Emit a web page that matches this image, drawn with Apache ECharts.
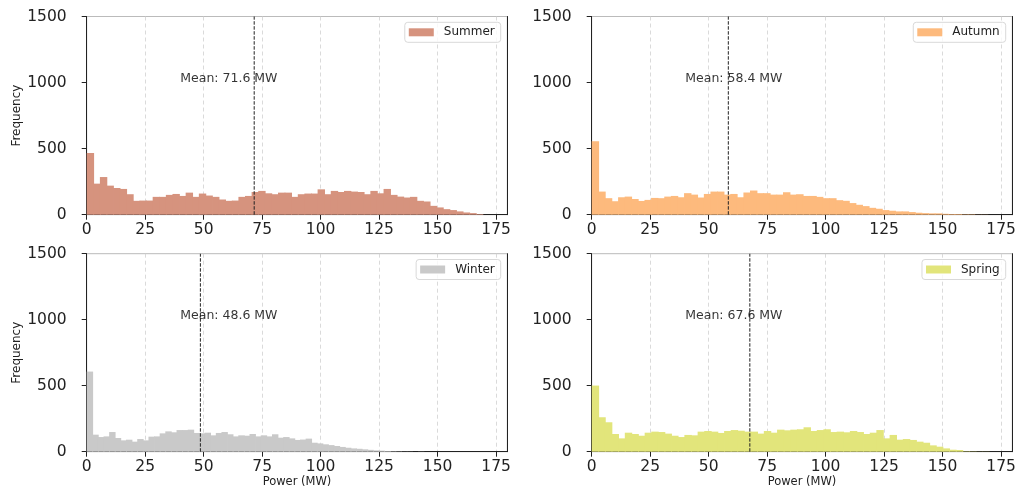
<!DOCTYPE html>
<html>
<head>
<meta charset="utf-8">
<script src="https://cdn.jsdelivr.net/npm/echarts@6/dist/echarts.min.js"></script>
<style>
  html, body { margin: 0; padding: 0; background: #fff; }
  #chart { width: 1021px; height: 489px; }
</style>
</head>
<body>
<div id="chart"></div>
<script>
// season histograms, 60 bins each starting at 0 MW
const seasons = ['Summer', 'Autumn', 'Winter', 'Spring']
const binWidths = [2.82, 2.82, 2.4, 2.83]
const means = [71.6, 58.4, 48.6, 67.6]

const summerCounts = [467, 235, 285, 220, 202, 195, 155, 105, 107, 107,
  135, 135, 150, 157, 142, 167, 135, 160, 145, 135,
  115, 105, 107, 135, 142, 172, 180, 162, 155, 167,
  167, 135, 155, 160, 160, 192, 155, 180, 172, 180,
  175, 172, 155, 180, 162, 195, 150, 137, 130, 135,
  105, 100, 67, 55, 42, 35, 25, 17, 12, 5]
const autumnCounts = [556, 175, 125, 102, 132, 137, 119, 104, 112, 127,
  125, 137, 142, 132, 163, 152, 130, 157, 175, 175,
  152, 157, 132, 168, 183, 163, 163, 152, 152, 170,
  152, 155, 142, 142, 135, 125, 125, 110, 105, 88,
  75, 65, 52, 45, 35, 30, 25, 25, 20, 15,
  12, 10, 10, 7, 5, 5, 3, 3, 1, 1]
const winterCounts = [607, 129, 111, 116, 149, 104, 86, 91, 76, 96,
  86, 114, 116, 139, 154, 147, 164, 164, 167, 142,
  139, 144, 124, 142, 149, 132, 116, 124, 121, 134,
  116, 124, 116, 132, 106, 111, 101, 89, 92, 99,
  68, 63, 56, 50, 43, 36, 30, 25, 22, 18,
  14, 10, 8, 5, 3, 2, 1, 1, 0, 1]
const springCounts = [501, 261, 223, 134, 101, 144, 134, 121, 144, 152,
  149, 137, 121, 111, 127, 124, 152, 157, 152, 142,
  157, 164, 159, 152, 152, 137, 157, 144, 167, 162,
  167, 170, 185, 157, 164, 170, 149, 152, 147, 157,
  149, 134, 144, 164, 101, 127, 91, 96, 89, 76,
  68, 48, 38, 25, 15, 13, 3, 2, 1, 1]

const xTicks = [0, 25, 50, 75, 100, 125, 150, 175]
const yTicks = [0, 500, 1000, 1500]

const countsList = [summerCounts, autumnCounts, winterCounts, springCounts]
const colors = ['#d6937e', '#fdba7d', '#c9c9c9', '#e2e57b']
const font = 'DejaVu Sans'

const grids = [
  { left: 86.7, top: 16.5, width: 420.6, height: 198.2 },
  { left: 591.7, top: 16.5, width: 420.6, height: 198.2 },
  { left: 86.7, top: 253.7, width: 420.6, height: 198 },
  { left: 591.7, top: 253.7, width: 420.6, height: 198 }
]

const chart = echarts.init(document.getElementById('chart'))

const xAxis = []
const yAxis = []
const legend = []
const series = []

grids.forEach((g, i) => {
  xAxis.push({
    gridIndex: i,
    type: 'value',
    min: 0,
    max: 179.8,
    axisLine: { lineStyle: { color: '#222', width: 1 } },
    axisTick: { show: true, length: 5, customValues: xTicks, lineStyle: { color: '#222' } },
    axisLabel: { customValues: xTicks, fontSize: 15.5, color: '#222', margin: 7, fontFamily: font },
    splitLine: { show: true, lineStyle: { type: [4, 3], color: '#d0d0d0', width: 0.8 } },
    name: i >= 2 ? 'Power (MW)' : '',
    nameLocation: 'middle',
    nameGap: 20,
    nameTextStyle: { fontSize: 11.5, color: '#222', fontFamily: font }
  })
  yAxis.push({
    gridIndex: i,
    type: 'value',
    min: 0,
    max: 1500,
    interval: 500,
    axisLine: { show: true, lineStyle: { color: '#222', width: 1 } },
    axisTick: { show: true, length: 5, customValues: yTicks, lineStyle: { color: '#222' } },
    axisLabel: {
      customValues: yTicks,
      formatter: v => String(v),
      fontSize: 15.5, color: '#222', margin: 20, fontFamily: font
    },
    splitLine: { show: false },
    name: i % 2 === 0 ? 'Frequency' : '',
    nameLocation: 'middle',
    nameGap: 61,
    nameTextStyle: { fontSize: 12, color: '#222', fontFamily: font }
  })
  legend.push({
    data: [seasons[i]],
    right: i % 2 === 0 ? 520.3 : 15.3,
    top: g.top + 5.8,
    icon: 'rect',
    itemWidth: 25,
    itemHeight: 8,
    padding: [4, 6, 4, 4],
    borderColor: '#d9d9d9',
    borderWidth: 1,
    borderRadius: 3,
    backgroundColor: 'rgba(255,255,255,0.8)',
    selectedMode: false,
    textStyle: { fontSize: 12, color: '#222', fontFamily: font, padding: [0, 0, 0, 5] }
  })

  const w = binWidths[i]
  const bins = countsList[i].map((c, k) => [k * w, (k + 1) * w, c])

  series.push({
    type: 'custom',
    name: seasons[i],
    xAxisIndex: i,
    yAxisIndex: i,
    itemStyle: { color: colors[i] },
    encode: { x: [0, 1], y: 2 },
    data: bins,
    renderItem: (params, api) => {
      const p0 = api.coord([api.value(0), api.value(2)])
      const p1 = api.coord([api.value(1), 0])
      // small overlap into the next bin hides anti-aliasing seams
      return {
        type: 'rect',
        shape: { x: p0[0], y: p0[1], width: p1[0] - p0[0] + 0.8, height: p1[1] - p0[1] },
        style: { fill: colors[i] }
      }
    }
  })
  // mean line
  series.push({
    type: 'line',
    xAxisIndex: i,
    yAxisIndex: i,
    data: [[means[i], 0], [means[i], 1500]],
    symbol: 'none',
    silent: true,
    z: 3,
    lineStyle: { color: '#222', width: 1, type: [3.5, 1.5] }
  })
  // mean text
  series.push({
    type: 'scatter',
    xAxisIndex: i,
    yAxisIndex: i,
    data: [[40, 1000]],
    symbolSize: 0,
    silent: true,
    z: 4,
    label: {
      show: true,
      position: [0, 0],
      offset: [0, 3],
      align: 'left',
      verticalAlign: 'bottom',
      formatter: 'Mean: ' + means[i].toFixed(1) + ' MW',
      fontSize: 12.5,
      color: '#000',
      fontFamily: font
    }
  })
})

// right spines
grids.forEach((g, i) => {
  yAxis.push({
    gridIndex: i,
    type: 'value',
    position: 'right',
    min: 0,
    max: 1500,
    axisLine: { show: true, lineStyle: { color: '#222', width: 1 } },
    axisTick: { show: false },
    axisLabel: { show: false },
    splitLine: { show: false }
  })
})

const option = {
  animation: false,
  backgroundColor: '#fff',
  textStyle: { fontFamily: font },
  grid: grids.map(g => Object.assign({ show: true, borderColor: '#bbb', borderWidth: 1 }, g)),
  legend: legend,
  xAxis: xAxis,
  yAxis: yAxis,
  series: series
}

chart.setOption(option)
</script>
</body>
</html>
